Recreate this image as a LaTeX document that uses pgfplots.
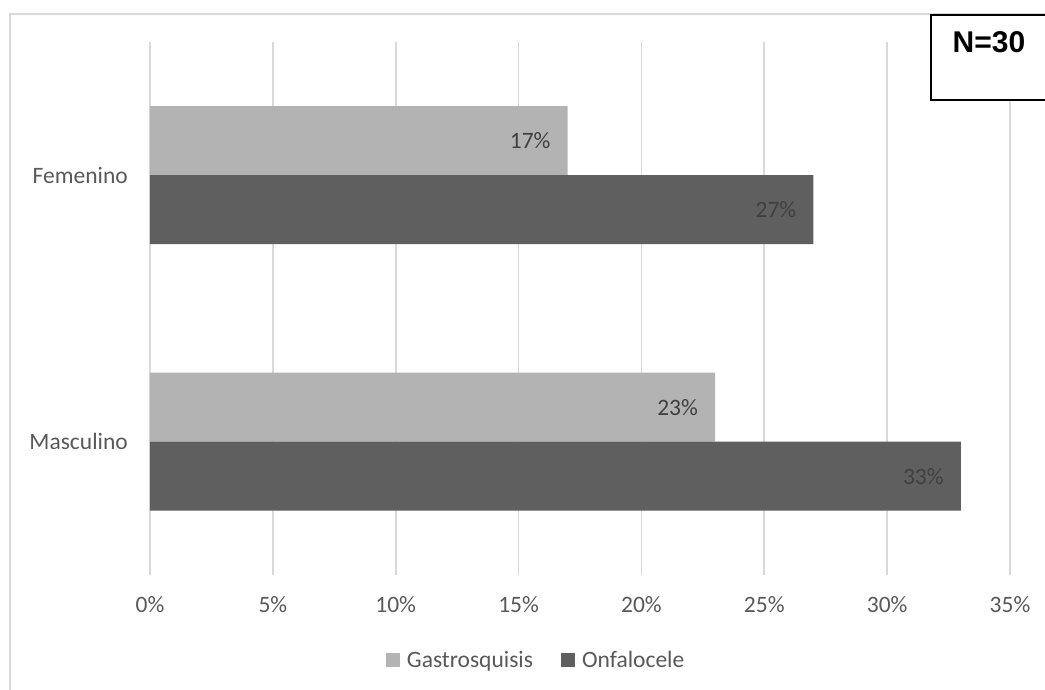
\documentclass[border=0pt]{standalone}
\usepackage{pgfplots}
\pgfplotsset{compat=1.18}
\usepackage{fontspec}
\setmainfont{Carlito}
\newfontfamily\arialfont{Liberation Sans}
\definecolor{gridc}{HTML}{D9D9D9}
\definecolor{gastro}{HTML}{B3B3B3}
\definecolor{onfa}{HTML}{5F5F5F}
\definecolor{lblc}{HTML}{404040}
\definecolor{tickc}{HTML}{595959}
\begin{document}
\begin{tikzpicture}[x=1pt,y=1pt]
\useasboundingbox (0,0) rectangle (1045,690);
\fill[white] (0,0) rectangle (1045,690);
\draw[gridc, line width=2pt] (10,0) -- (10,676) -- (1046,676);
\begin{axis}[
  at={(150pt,115pt)}, anchor=south west,
  scale only axis, width=860pt, height=533pt,
  xbar, bar width=69pt,
  xmin=0, xmax=35, ymin=-0.5, ymax=1.5,
  xtick={0,5,...,35},
  xticklabel={\pgfmathprintnumber{\tick}\%},
  xticklabel style={font=\fontsize{23.5}{28}\selectfont, text=tickc, inner sep=0pt, anchor=north, yshift=-21pt},
  ytick={0,1}, yticklabels={Masculino,Femenino},
  yticklabel style={font=\fontsize{23.5}{28}\selectfont, text=tickc, inner sep=0pt, anchor=east, xshift=-22pt},
  /pgf/number format/assume math mode=true,
  major tick length=0pt,
  axis line style={draw=none},
  xmajorgrids, grid style={gridc, line width=1.6pt},
  nodes near coords={\pgfmathprintnumber{\pgfplotspointmeta}\%},
  nodes near coords style={font=\fontsize{23.5}{28}\selectfont, text=lblc, anchor=east, inner sep=0pt, xshift=-17pt},
  legend style={at={(0.449,-0.159)}, anchor=center, draw=none, legend columns=2,
    font=\fontsize{23.5}{28}\selectfont, text=tickc,
    /tikz/every odd column/.append style={column sep=5pt},
    /tikz/every even column/.append style={column sep=26pt}},
  legend image code/.code={\fill[#1] (0pt,-7pt) rectangle (14pt,7pt);},
  clip=false,
]
\addplot[fill=gastro, draw=none, bar shift=34.5pt] coordinates {(23,0) (17,1)};
\addplot[fill=onfa, draw=none, bar shift=-34.5pt] coordinates {(33,0) (27,1)};
\legend{Gastrosquisis, Onfalocele}
\end{axis}
\fill[white] (931,590) rectangle (1047,675);
\draw[black, line width=2pt] (1047,590) -- (931,590) -- (931,675) -- (1047,675);
\node[font=\arialfont\bfseries\fontsize{30}{34}\selectfont, inner sep=0pt] at (989,648) {N=30};
\end{tikzpicture}
\end{document}
